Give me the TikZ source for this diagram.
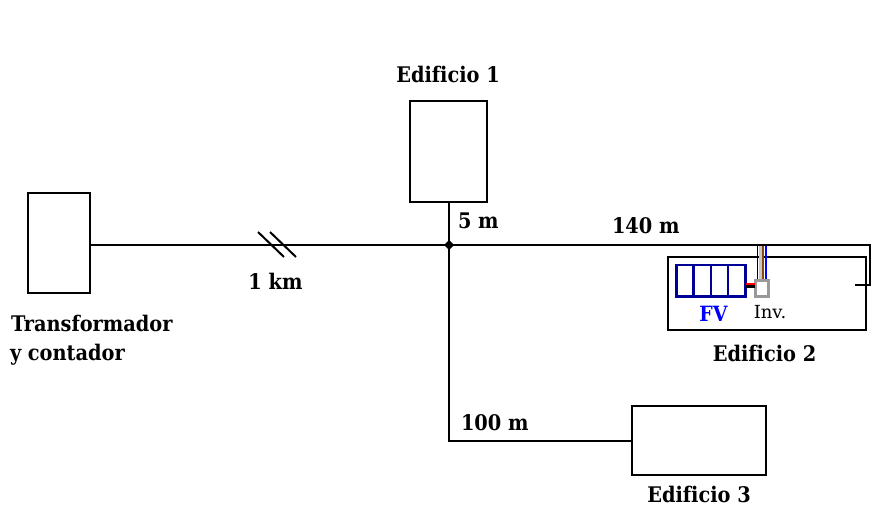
\documentclass[tikz,border=0pt]{standalone}
\usepackage{fontspec}
\setmainfont[Ligatures=NoCommon]{DejaVu Serif Condensed}
\newfontfamily\invfont{DejaVu Serif}
\definecolor{pvblue}{RGB}{0,0,150}
\definecolor{wirebrown}{RGB}{140,70,20}
\begin{document}
\begin{tikzpicture}[x=1pt,y=-1pt,
  box/.style={draw=black,line width=2pt,inner sep=0pt,outer sep=0pt,anchor=north west},
  wire/.style={draw=black,line width=2pt},
  lbl/.style={inner sep=0pt,outer sep=0pt,font=\fontsize{21.5}{26}\selectfont\bfseries,text=black},
  pv/.style={draw=pvblue,line width=2.7pt,minimum width=17.2pt,minimum height=31.5pt,inner sep=0pt,outer sep=0pt,anchor=north west}]
\useasboundingbox (0,0) rectangle (877,526);
\node[box,minimum width=62pt,minimum height=100pt] (trafo) at (28,193) {};
\node[box,minimum width=77pt,minimum height=101pt] (ed1) at (410,101) {};
\node[box,minimum width=198pt,minimum height=73pt] (ed2) at (668,257) {};
\node[box,minimum width=134pt,minimum height=69pt] (ed3) at (632,406) {};
\coordinate (j) at (449,245);
\coordinate (c1) at (870,245);
\coordinate (c2) at (870,285);
\coordinate (c3) at (855,285);
\coordinate (c4) at (449,441);
\coordinate (s1a) at (258,232);\coordinate (s1b) at (284,257);
\coordinate (s2a) at (270,232);\coordinate (s2b) at (296,257);
\draw[wire] (trafo.east |- j) -- (j);
\draw[wire] (j) -- (ed1.south -| j);
\draw[wire] (j) -- (c1) -- (c2) -- (c3);
\draw[wire] (j) -- (c4) -- (c4 -| ed3.west);
\draw[line width=2pt] (s1a) -- (s1b);
\draw[line width=2pt] (s2a) -- (s2b);
\fill (j) +(-5,0) -- +(0,-5) -- +(5,0) -- +(0,5) -- cycle;
\node[pv] (p1) at (676.5,265) {};
\node[pv] (p2) at (693.7,265) {};
\node[pv] (p3) at (710.9,265) {};
\node[pv] (p4) at (728.1,265) {};
\coordinate (w1) at (757.5,246);\coordinate (w2) at (760.2,246);\coordinate (w3) at (763,246);\coordinate (w4) at (766.3,246);
\draw[line width=1.8pt,black] (w1) -- (w1 |- 0,281);
\draw[line width=2.6pt,black!22] (w2) -- (w2 |- 0,281);
\draw[line width=1.8pt,wirebrown] (w3) -- (w3 |- 0,281);
\draw[line width=1.8pt,blue] (w4) -- (w4 |- 0,281);
\node[draw=black!40,line width=2.6pt,fill=white,minimum width=13pt,minimum height=16pt,inner sep=0pt,outer sep=0pt,anchor=north west] (inv) at (755.5,280.5) {};
\draw[line width=2.2pt,red] (746,284.5) -- (754.5,284.5);
\draw[line width=2.2pt,black] (746,286.5) -- (754.5,286.5);
\node[lbl,anchor=base] (t1) at (448,83) {Edificio 1};
\node[lbl,anchor=base west] (t5) at (458,229) {5 m};
\node[lbl,anchor=base west] (t140) at (612,233.5) {140 m};
\node[lbl,anchor=base] (t1k) at (275.5,290) {1 km};
\node[lbl,anchor=base west] (tt) at (11,331) {Transformador};
\node[lbl,anchor=base west] (ty) at (10,360) {y contador};
\node[lbl,anchor=base] (te2) at (764.5,361) {Edificio 2};
\node[lbl,anchor=base west] (t100) at (461,430) {100 m};
\node[lbl,anchor=base] (te3) at (699,502) {Edificio 3};
\node[lbl,anchor=base,text=blue,font=\fontsize{21}{24}\selectfont\bfseries] (fv) at (713.5,321) {FV};
\node[lbl,anchor=base,font=\fontsize{18}{22}\invfont\mdseries] (ti) at (770,318.5) {Inv.};
\end{tikzpicture}
\end{document}
